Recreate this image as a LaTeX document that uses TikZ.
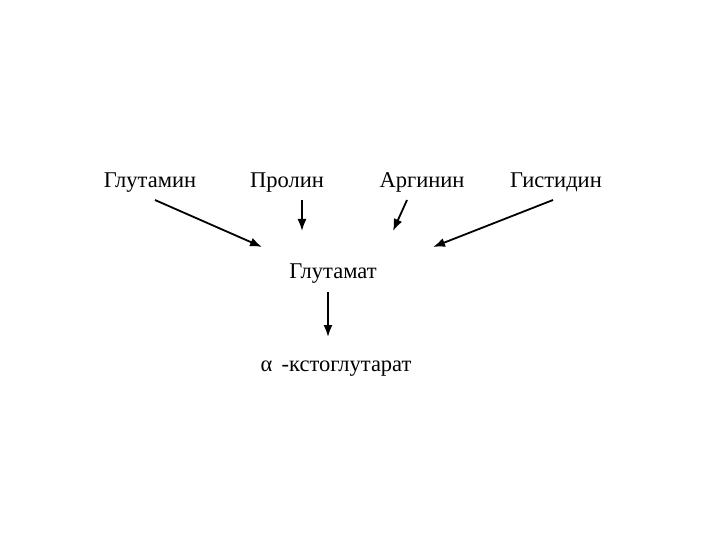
\documentclass[tikz,border=0pt]{standalone}
\usepackage{fontspec}
\setmainfont{Liberation Serif}
\usetikzlibrary{calc, positioning, arrows.meta}

\begin{document}
\begin{tikzpicture}[x=1pt, y=-1pt, >={Latex[length=12pt,width=9pt]},
  acid/.style={inner sep=0pt, anchor=base, font=\fontsize{22.5}{27}\selectfont},
  flow/.style={->, line width=1.8pt}]

  \useasboundingbox (0,0) rectangle (720,540);

  % Amino acids
  \node[acid] (glutamin) at (150,188) {Глутамин};
  \node[acid] (prolin)   at (287,188) {Пролин};
  \node[acid] (arginin)  at (422,188) {Аргинин};
  \node[acid] (histidin) at (556,188) {Гистидин};

  % Products
  \node[acid] (glutamat) at (333,278) {Глутамат};
  \node[acid] (ketoglut) at (336,371) {α\, -кстоглутарат};

  % Arrow heads
  \coordinate (inA) at (262,247);
  \coordinate (inB) at (302,231);
  \coordinate (inC) at (393,231);
  \coordinate (inD) at (433,247);
  \coordinate (outK) at (328,337);

  % Arrows
  \draw[flow] ($(glutamin.base)+(5,12)$) -- (inA);
  \draw[flow] ($(prolin.base)+(15,12)$) -- (inB);
  \draw[flow] ($(arginin.base)+(-15,12)$) -- (inC);
  \draw[flow] ($(histidin.base)+(-3,12)$) -- (inD);
  \draw[flow] ($(glutamat.base)+(-5,14)$) -- (outK);

\end{tikzpicture}
\end{document}
